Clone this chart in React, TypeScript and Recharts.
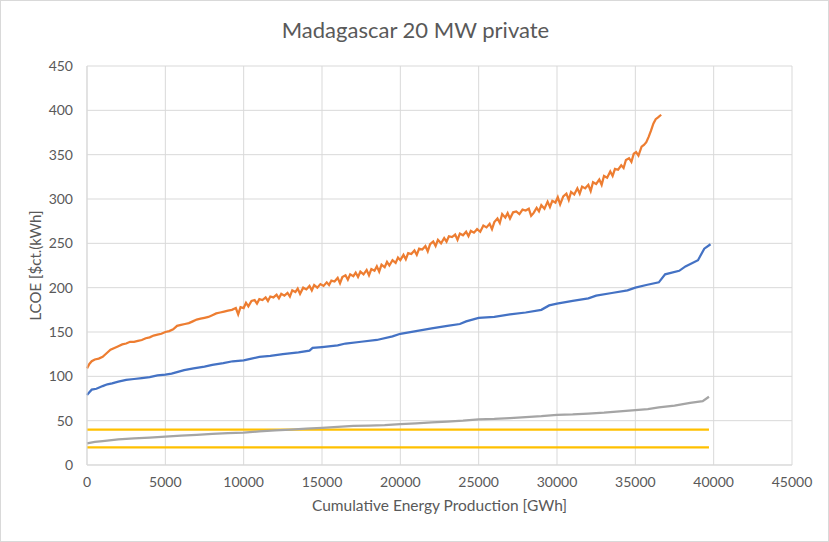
import { LineChart, Line, XAxis, YAxis, CartesianGrid } from 'recharts';

// x = cumulative energy production [GWh], y = LCOE [$ct./kWh]
const orangeSeries: [number, number][] = [
  [0, 109], [150, 114], [300, 117], [500, 119], [750, 120], [1000, 122], [1250, 126], [1500, 130],
  [1750, 132], [2000, 134], [2250, 136], [2500, 137], [2750, 139], [3000, 139], [3250, 140], [3500, 141],
  [3750, 143], [4000, 144], [4250, 146], [4500, 147], [4750, 148], [5000, 150], [5250, 151], [5500, 153],
  [5750, 157], [6000, 158], [6250, 159], [6500, 160], [6750, 162], [7000, 164], [7250, 165], [7500, 166],
  [7750, 167], [8000, 169], [8250, 171], [8500, 172], [8750, 173], [9000, 174], [9250, 175], [9500, 177],
  [9650, 170], [9800, 178], [10000, 177], [10150, 183], [10300, 179], [10500, 185], [10700, 186], [10850, 182],
  [11000, 187], [11200, 186], [11400, 189], [11550, 185], [11700, 190], [11900, 189], [12100, 192], [12250, 188],
  [12400, 193], [12600, 191], [12800, 194], [12950, 190], [13100, 197], [13300, 195], [13450, 199], [13600, 193],
  [13800, 200], [14000, 198], [14200, 202], [14350, 197], [14500, 203], [14700, 200], [14900, 204], [15100, 202],
  [15300, 206], [15450, 203], [15600, 208], [15800, 207], [16000, 211], [16150, 205], [16300, 212], [16500, 214],
  [16650, 209], [16800, 215], [17000, 213], [17150, 217], [17300, 212], [17450, 218], [17650, 215], [17850, 220],
  [18000, 214], [18150, 221], [18350, 219], [18500, 224], [18650, 218], [18800, 226], [19000, 223], [19150, 229],
  [19300, 225], [19500, 231], [19700, 228], [19850, 234], [20000, 231], [20200, 237], [20350, 232], [20500, 239],
  [20700, 238], [20900, 242], [21050, 237], [21200, 244], [21400, 243], [21600, 247], [21750, 241], [21900, 249],
  [22100, 252], [22250, 247], [22400, 254], [22600, 250], [22800, 256], [22950, 252], [23100, 258], [23300, 257],
  [23500, 260], [23650, 254], [23800, 261], [24000, 259], [24200, 263], [24350, 258], [24500, 264], [24700, 262],
  [24900, 266], [25100, 263], [25300, 270], [25500, 268], [25700, 272], [25850, 266], [26000, 274], [26200, 278],
  [26350, 273], [26500, 283], [26700, 279], [26850, 284], [27000, 278], [27200, 285], [27400, 286], [27600, 283],
  [27800, 288], [28000, 287], [28200, 289], [28350, 281], [28500, 284], [28700, 290], [28850, 286], [29000, 293],
  [29200, 289], [29400, 297], [29550, 291], [29700, 298], [29900, 296], [30050, 302], [30200, 294], [30400, 303],
  [30600, 306], [30750, 299], [30900, 308], [31100, 305], [31300, 312], [31450, 306], [31600, 314], [31800, 312],
  [32000, 316], [32150, 309], [32300, 319], [32500, 317], [32700, 322], [32850, 316], [33000, 326], [33200, 324],
  [33400, 331], [33550, 326], [33700, 334], [33900, 333], [34100, 338], [34250, 335], [34400, 344], [34600, 346],
  [34750, 342], [34900, 351], [35050, 353], [35200, 349], [35400, 359], [35550, 361], [35700, 364], [35850, 370],
  [36000, 377], [36150, 385], [36300, 390], [36450, 392], [36650, 395],
];

const blueSeries: [number, number][] = [
  [0, 79], [150, 82], [300, 85], [600, 86], [1000, 89], [1300, 91], [1600, 92], [2000, 94], [2500, 96],
  [3000, 97], [3500, 98], [4000, 99], [4500, 101], [5000, 102], [5400, 103], [5800, 105], [6200, 107],
  [6800, 109], [7500, 111], [8000, 113], [8700, 115], [9300, 117], [10000, 118], [10500, 120], [11000, 122],
  [11700, 123], [12500, 125], [13500, 127], [14200, 129], [14400, 132], [15000, 133], [16000, 135], [16500, 137],
  [17500, 139], [18500, 141], [19500, 145], [20000, 148], [21000, 151], [22000, 154], [23000, 157], [23800, 159],
  [24200, 162], [25000, 166], [26000, 167], [27000, 170], [28000, 172], [29000, 175], [29500, 180], [30000, 182],
  [31000, 185], [32000, 188], [32500, 191], [33500, 194], [34500, 197], [35000, 200], [35700, 203], [36500, 206],
  [36900, 215], [37800, 219], [38200, 224], [39000, 231], [39400, 244], [39800, 249],
];

const graySeries: [number, number][] = [
  [0, 24.5], [500, 26], [1000, 27], [2000, 29], [3000, 30], [4000, 31], [5000, 32], [6000, 33], [7000, 34],
  [8000, 35], [9000, 36], [10000, 36.5], [11000, 38], [12000, 39], [13000, 40], [14000, 41], [15000, 42],
  [16000, 43], [17000, 44], [18000, 44.5], [19000, 45], [20000, 46], [21000, 47], [22000, 48], [23000, 49],
  [24000, 50], [25000, 51.5], [26000, 52], [27000, 53], [28000, 54], [29000, 55], [30000, 56.4], [31000, 57],
  [32000, 58], [33000, 59], [34000, 60.5], [35000, 62], [35800, 63], [36500, 65], [37500, 67], [38500, 70],
  [39300, 72], [39700, 77],
];

const upperLimit: [number, number][] = [[0, 40], [39700, 40]];
const lowerLimit: [number, number][] = [[0, 20], [39700, 20]];

const xTicks = [0, 5000, 10000, 15000, 20000, 25000, 30000, 35000, 40000, 45000];
const yTicks = [0, 50, 100, 150, 200, 250, 300, 350, 400, 450];

const toRows = (s: [number, number][]) => s.map(([x, y]) => ({ x, y }));

const FONT = 'Lato, "Open Sans", sans-serif';
const TEXT = '#595959';
const GRID = '#d9d9d9';

export default function App() {
  return (
    <div
      style={{
        position: 'fixed',
        top: 0,
        left: 0,
        width: 829,
        height: 542,
        background: '#fff',
        border: `1px solid ${GRID}`,
        boxSizing: 'border-box',
        fontFamily: FONT,
      }}
    >
      <div
        style={{
          position: 'absolute',
          top: 15,
          left: 0,
          width: 829,
          textAlign: 'center',
          fontSize: 22,
          color: TEXT,
        }}
      >
        Madagascar 20 MW private
      </div>
      <LineChart
        width={827}
        height={540}
        margin={{ top: 65, right: 36, bottom: 26, left: 0 }}
        style={{ position: 'absolute', top: 0, left: 0 }}
      >
        <CartesianGrid stroke={GRID} strokeWidth={1} />
        <XAxis
          type="number"
          dataKey="x"
          domain={[0, 45000]}
          ticks={xTicks}
          interval={0}
          height={50}
          tickLine={false}
          axisLine={{ stroke: GRID }}
          tickMargin={6}
          tick={{ fill: TEXT, fontSize: 14, fontFamily: FONT }}
          label={{ value: 'Cumulative Energy Production [GWh]', position: 'insideBottom', offset: 4, fill: TEXT, fontSize: 15.5, fontFamily: FONT }}
        />
        <YAxis
          type="number"
          dataKey="y"
          domain={[0, 450]}
          ticks={yTicks}
          interval={0}
          width={86}
          tickLine={false}
          axisLine={{ stroke: GRID }}
          tickMargin={8}
          tick={{ fill: TEXT, fontSize: 14, fontFamily: FONT }}
          label={{ value: 'LCOE [$ct.(kWh]', angle: -90, position: 'center', dx: -8, fill: TEXT, fontSize: 15, fontFamily: FONT }}
        />
        <Line data={toRows(lowerLimit)} dataKey="y" stroke="#FFC000" strokeWidth={2.25} dot={false} isAnimationActive={false} />
        <Line data={toRows(upperLimit)} dataKey="y" stroke="#FFC000" strokeWidth={2.25} dot={false} isAnimationActive={false} />
        <Line data={toRows(graySeries)} dataKey="y" stroke="#A5A5A5" strokeWidth={2.25} dot={false} isAnimationActive={false} />
        <Line data={toRows(blueSeries)} dataKey="y" stroke="#4472C4" strokeWidth={2.25} dot={false} isAnimationActive={false} />
        <Line data={toRows(orangeSeries)} dataKey="y" stroke="#ED7D31" strokeWidth={2.25} dot={false} isAnimationActive={false} />
      </LineChart>
    </div>
  );
}
